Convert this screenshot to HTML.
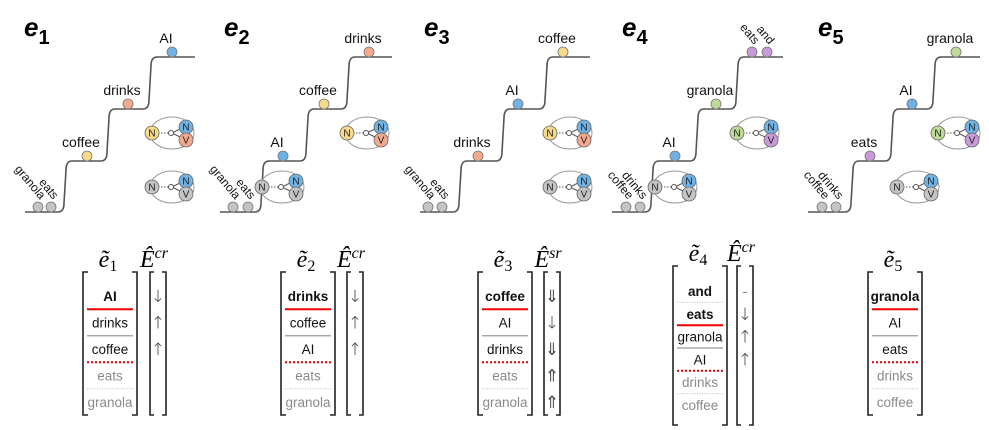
<!DOCTYPE html>
<html><head><meta charset="utf-8"><style>
body{margin:0;background:#fff;width:989px;height:430px;overflow:hidden}
svg{display:block;font-family:"Liberation Sans",sans-serif}
</style></head><body>
<svg id="fig" width="989" height="430" viewBox="0 0 989 430"></svg>
<script>
const NS="http://www.w3.org/2000/svg";
const svg=document.getElementById('fig');
const COL={g:'#c4c4c4',y:'#f7d98a',o:'#f2a98e',b:'#6fb2e6',gr:'#bcdc96',p:'#c99ad8'};
const panelTitles=['1','2','3','4','5'];
const titleX=[24,224,424,622,818];
const baseStart=[25,220,420,612,808];
const risesX=[[65,108,150],[262,307,348],[460,503,546],[652,697,737],[852,892,934]];
const topEnd=[195,392,590,783,980];
const levelY=[212,161,109,57];
const tokens=[
 [['granola','g',38,0,1],['eats','g',51,0,1],['coffee','y',87,1,0],['drinks','o',128,2,0],['AI','b',172,3,0]],
 [['granola','g',233,0,1],['eats','g',248,0,1],['AI','b',283,1,0],['coffee','y',324,2,0],['drinks','o',369,3,0]],
 [['granola','g',428,0,1],['eats','g',442,0,1],['drinks','o',478,1,0],['AI','b',518,2,0],['coffee','y',563,3,0]],
 [['coffee','g',626,0,1],['drinks','g',640,0,1],['AI','b',675,1,0],['granola','gr',716,2,0],['eats','p',752,3,1],['and','p',767,3,1]],
 [['coffee','g',822,0,1],['drinks','g',836,0,1],['eats','p',870,1,0],['AI','b',912,2,0],['granola','gr',956,3,0]]
];
const relations=[
 [[172,133,'y','b','o'],[172,187,'g','b','g']],
 [[367,133,'y','b','o'],[282,187,'g','b','g']],
 [[570,133,'y','b','o'],[570,187,'g','b','g']],
 [[757,133,'gr','b','p'],[675,187,'g','b','g']],
 [[958,133,'gr','b','p'],[917,187,'g','b','g']]
];
const matX=[110,308,505,700,895];
const matSub=['1','2','3','4','5'];
const matRows=[
 [['AI','b','red'],['drinks','n','gray'],['coffee','n','reddot'],['eats','g','graydot'],['granola','g','']],
 [['drinks','b','red'],['coffee','n','gray'],['AI','n','reddot'],['eats','g','graydot'],['granola','g','']],
 [['coffee','b','red'],['AI','n','gray'],['drinks','n','reddot'],['eats','g','graydot'],['granola','g','']],
 [['and','b','graydot'],['eats','b','red'],['granola','n','gray'],['AI','n','reddot'],['drinks','g','graydot'],['coffee','g','']],
 [['granola','b','red'],['AI','n','gray'],['eats','n','reddot'],['drinks','g','graydot'],['coffee','g','']]
];
const eSup=['cr','cr','sr','cr',null];
const eArrows=[['↓','↑','↑'],['↓','↑','↑'],['⇓','↓','⇓','⇑','⇑'],['-','↓','↑','↑'],[]];
const eX=[158,355,552,745,0];

function el(tag,attrs,parent){const e=document.createElementNS(NS,tag);for(const k in attrs)e.setAttribute(k,attrs[k]);(parent||svg).appendChild(e);return e;}
function txt(s,attrs,parent){const t=el('text',attrs,parent);t.textContent=s;return t;}

for(let p=0;p<5;p++){
 const g=el('g',{});
 
 
 const t=el('text',{x:titleX[p],y:36,'font-size':26,'font-weight':'bold','font-style':'italic',fill:'#000'},g);
 
 
 t.textContent='e';
 const ts=el('tspan',{dy:8,'font-size':20,'font-style':'normal'},t);ts.textContent=panelTitles[p];
 let d='M'+baseStart[p]+','+levelY[0];
 risesX[p].forEach((rx,i)=>{const lo=levelY[i],hi=levelY[i+1];
  d+=' L'+(rx-7)+','+lo+' Q'+(rx-1)+','+lo+' '+(rx-1)+','+(lo-9)+' L'+(rx+1)+','+(hi+9)+' Q'+(rx+1)+','+hi+' '+(rx+7)+','+hi;});
 d+=' L'+topEnd[p]+','+levelY[3];
 const st=el('path',{d:d,fill:'none',stroke:'#555','stroke-width':1.6},g);
 
 
 relations[p].forEach(r=>{
  const [cx,cy,lc,nc,vc]=r;
  const rg=el('g',{},g);
  
  
  el('ellipse',{cx:cx,cy:cy,rx:22,ry:16,fill:'none',stroke:'#999','stroke-width':1},rg);
  el('line',{x1:cx-14,y1:cy,x2:cx-2,y2:cy,stroke:'#555','stroke-dasharray':'1.5,1.5'},rg);
  el('line',{x1:cx,y1:cy,x2:cx+12,y2:cy-6,stroke:'#555'},rg);
  el('line',{x1:cx,y1:cy,x2:cx+12,y2:cy+6,stroke:'#555'},rg);
  el('circle',{cx:cx-1,cy:cy,r:2.5,fill:'#fff',stroke:'#555'},rg);
  [[cx-20,cy,lc,'N'],[cx+14,cy-6,nc,'N'],[cx+14,cy+7,vc,'V']].forEach(c=>{
   el('circle',{cx:c[0],cy:c[1],r:7,fill:COL[c[2]],stroke:'#666','stroke-width':0.8},rg);
   txt(c[3],{x:c[0],y:c[1]+3.5,'font-size':10,'text-anchor':'middle',fill:'#222'},rg);
  });
 });
 tokens[p].forEach(tk=>{
  const [lab,c,x,lv,rot]=tk;const y=levelY[lv]-5;
  const cc=el('circle',{cx:x,cy:y,r:5,fill:COL[c],stroke:'#777','stroke-width':0.8},g);
  
  
  let tt;
  if(rot){tt=txt(lab,{x:x+2,y:y-7,'font-size':12,'text-anchor':'end',fill:'#111',transform:'rotate(50 '+(x+2)+' '+(y-7)+')'},g);}
  else{tt=txt(lab,{x:x-6,y:y-9,'font-size':14,'text-anchor':'middle',fill:'#111'},g);}
  
  
 });
 const rows=matRows[p];const n=rows.length;
 const six=n>5;
 const sp=six?22.8:26.5;const fc=six?291:296;const top=six?266:272;const bot=six?425:415;
 const mx=matX[p];const hw=27;
 const mg=el('g',{},g);
 
 
 const mt=el('text',{x:mx-2,y:top-5,'font-size':24,'font-family':'"Liberation Serif",serif','font-style':'italic','text-anchor':'middle'},mg);
 mt.textContent='ẽ';const ms=el('tspan',{dy:4,'font-size':16,'font-style':'normal'},mt);ms.textContent=matSub[p];
 const br=(x,dir,yt,yb)=>el('path',{d:'M'+(x+dir*5)+','+yt+' L'+x+','+yt+' L'+x+','+yb+' L'+(x+dir*5)+','+yb,fill:'none',stroke:'#222','stroke-width':1.6},mg);
 br(mx-hw,1,top,bot);br(mx+hw,-1,top,bot);
 rows.forEach((r,i)=>{
  const cy=fc+i*sp;
  txt(r[0],{x:mx,y:cy+5,'font-size':13.5,'text-anchor':'middle','font-weight':r[1]=='b'?'bold':'normal',fill:r[1]=='g'?'#8a8a8a':'#111'},mg);
  const ly=cy+sp/2;const s=r[2];
  if(s){const a={x1:mx-23,x2:mx+23,y1:ly,y2:ly};
   if(s=='red'){a.stroke='#e00';a['stroke-width']=2;}
   if(s=='gray'){a.stroke='#999';a['stroke-width']=1.3;}
   if(s=='reddot'){a.stroke='#e00';a['stroke-width']=2;a['stroke-dasharray']='2,2';}
   if(s=='graydot'){a.stroke='#bbb';a['stroke-width']=1;a['stroke-dasharray']='1,1.5';}
   el('line',a,mg);}
 });
 if(eSup[p]){
  const ex=eX[p];const eg=el('g',{},g);
  
  
  const et=el('text',{x:ex-4,y:top-5,'font-size':24,'font-family':'"Liberation Serif",serif','font-style':'italic','text-anchor':'middle'},eg);
  et.textContent='Ê';const es=el('tspan',{dy:-9,'font-size':16},et);es.textContent=eSup[p];
  el('path',{d:'M'+(ex-4)+','+top+' L'+(ex-8)+','+top+' L'+(ex-8)+','+bot+' L'+(ex-4)+','+bot,fill:'none',stroke:'#222','stroke-width':1.6},eg);
  el('path',{d:'M'+(ex+4)+','+top+' L'+(ex+8)+','+top+' L'+(ex+8)+','+bot+' L'+(ex+4)+','+bot,fill:'none',stroke:'#222','stroke-width':1.6},eg);
  eArrows[p].forEach((a,i)=>{const cy=fc+i*sp;
   txt(a,{x:ex,y:cy+6,'font-size':17,'text-anchor':'middle',fill:'#444','font-family':'"DejaVu Sans",sans-serif','font-weight':'200'},eg);});
 }
}
</script>
</body></html>
